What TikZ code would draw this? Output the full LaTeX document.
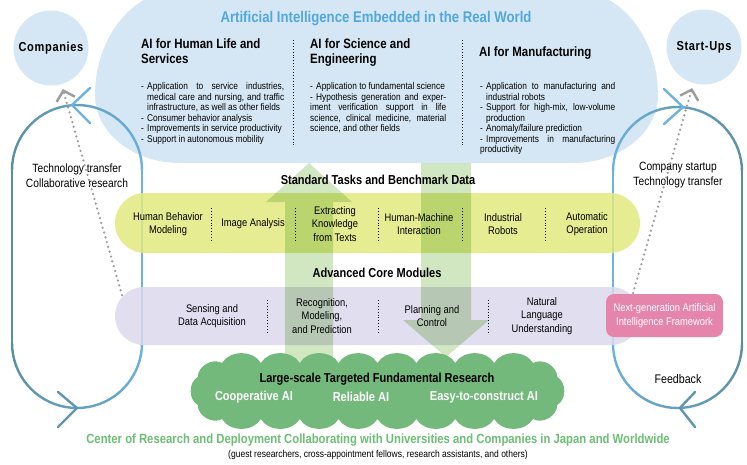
\documentclass[tikz,border=0pt]{standalone}
\usepackage{fontspec}
\setmainfont[FakeStretch=0.85]{Liberation Sans}
\usetikzlibrary{arrows.meta}

\definecolor{skyfill}{HTML}{D5E7F4}
\definecolor{titleblue}{HTML}{52A7DD}
\definecolor{looplight}{HTML}{6CB3E2}
\definecolor{loopdark}{HTML}{5A8D9D}
\definecolor{taskyellow}{HTML}{E1E97F}
\definecolor{corelilac}{HTML}{DAD8EC}
\definecolor{arrowgreen}{HTML}{D1E7C1}
\definecolor{cloudgreen}{HTML}{73B97C}
\definecolor{centergreen}{HTML}{6CBE75}
\definecolor{framepink}{HTML}{E685AC}
\definecolor{dotgray}{HTML}{9C9C9C}

\newcommand\fsz[2]{\fontsize{#1}{#2}\selectfont}
\newcommand\bitem[1]{\par\noindent\hangindent=6pt\hangafter=1\makebox[6pt][l]{-}#1}

\tikzset{
  loopline/.style={line width=2.4pt,line cap=round},
  hub/.style={circle,fill=skyfill,minimum size=75pt,font=\bfseries\fsz{13}{15}\addfontfeatures{LetterSpace=5}},
  heading/.style={anchor=north west,align=left,font=\bfseries\fsz{13.5}{15}},
  bullets/.style={anchor=north west,text width=#1,align=justify,font=\fsz{9.8}{10.5}},
  bar/.style={font=\bfseries\fsz{13}{15}},
  item/.style={align=center,font=\fsz{11}{13.5}},
  divider/.style={dotted,line width=0.9pt},
  dotlink/.style={dotgray,line width=2.5pt,line cap=round,dash pattern=on 0pt off 5pt,
    shorten >=5pt,-{Straight Barb[length=9pt,width=19pt,line width=2.4pt]}},
  puff/.style={bend right=60},
}

\begin{document}
\begin{tikzpicture}[x=1pt,y=1pt,every node/.style={inner sep=0pt}]
\useasboundingbox (0,0) rectangle (747,-464);
\clip (0,0) rectangle (747,-464);

\fill[skyfill] (95,-95) arc[start angle=180,end angle=270,x radius=85,y radius=68]
  -- (573,-163) arc[start angle=270,end angle=360,x radius=85,y radius=68]
  arc[start angle=0,end angle=90,x radius=85,y radius=105]
  -- (180,10) arc[start angle=90,end angle=180,x radius=85,y radius=105] -- cycle;

\node[hub] (companies) at (51,-48) {Companies};
\node[hub] (startups) at (704,-47) {Start-Ups};

\draw[loopline,loopdark] (12,-170) -- (12,-343);
\draw[loopline,looplight] (142,-170) -- (142,-343);
\draw[loopline,looplight] (613,-171.5) -- (613,-343.5);
\draw[loopline,loopdark] (742,-171.5) -- (742,-343.5);
\foreach \a in {0,10,...,170}{
  \pgfmathsetmacro\dk{(\a+5)/1.8}
  \draw[loopline,loopdark!\dk!looplight] (77,-170) ++(\a:65) arc[start angle=\a,delta angle=10,radius=65];
  \draw[loopline,loopdark!\dk!looplight] (677.5,-343.5) ++({180+\a}:64.5) arc[start angle={180+\a},delta angle=10,radius=64.5];
  \pgfmathsetmacro\dk{100-(\a+5)/1.8}
  \draw[loopline,loopdark!\dk!looplight] (77,-343) ++({180+\a}:65) arc[start angle={180+\a},delta angle=10,radius=65];
  \draw[loopline,loopdark!\dk!looplight] (677.5,-171.5) ++(\a:64.5) arc[start angle=\a,delta angle=10,radius=64.5];
}
\draw[loopline,looplight] (90,-88) -- (72,-105) -- (90,-123);
\draw[loopline,loopdark!75!looplight] (58,-392) -- (77,-408) -- (58,-427);
\draw[loopline,looplight] (664,-89) -- (683,-107) -- (664,-124);
\draw[loopline,loopdark!75!looplight] (695,-392) -- (680,-408) -- (695,-427);

\node[fill=taskyellow,fill opacity=0.85,rounded corners=30pt,minimum width=525pt,minimum height=60pt] (tasks) at (377.5,-223) {};
\node[fill=corelilac,fill opacity=0.85,rounded corners=29pt,minimum width=525pt,minimum height=58pt] (modules) at (377.5,-316) {};

\begin{scope}[blend mode=multiply]
  \fill[arrowgreen] (285,-362) -- (285,-202) -- (266,-202) -- (309,-163) -- (352,-202) -- (333,-202) -- (333,-362) -- cycle;
  \fill[arrowgreen] (421,-163) -- (421,-320) -- (403,-320) -- (446,-357) -- (489,-320) -- (471,-320) -- (471,-163) -- cycle;
\end{scope}

\node[font=\bfseries\fsz{15.5}{17},text=titleblue] (realworld) at (376,-19) {Artificial Intelligence Embedded in the Real World};

\node[heading] (humanlife) at (141,-39) {AI for Human Life and\\Services};
\node[heading] (science) at (310,-39) {AI for Science and\\Engineering};
\node[heading] (manufacturing) at (479,-47) {AI for Manufacturing};

\node[bullets=143pt] (humanlifelist) at (141,-79) {%
  \bitem{Application to service industries,\linebreak medical care and nursing, and traffic\linebreak infrastructure, as well as other fields}
  \bitem{Consumer behavior analysis}
  \bitem{Improvements in service productivity}
  \bitem{Support in autonomous mobility}};
\node[bullets=136pt] (sciencelist) at (310,-79) {%
  \bitem{Application to fundamental science}
  \bitem{Hypothesis generation and exper-\linebreak iment verification support in life\linebreak science, clinical medicine, material\linebreak science, and other fields}};
\node[bullets=135pt] (manufacturinglist) at (480,-79) {%
  \bitem{Application to manufacturing and\linebreak industrial robots}
  \bitem{Support for high-mix, low-volume\linebreak production}
  \bitem{Anomaly/failure prediction}
  \bitem{Improvements in manufacturing\linebreak productivity}};

\draw[divider] (293,-40) -- (293,-147);
\draw[divider] (462,-40) -- (462,-147);

\node[bar] (tasksbar) at (378,-180) {Standard Tasks and Benchmark Data};
\node[item] (behavior) at (168,-224) {Human Behavior\\Modeling};
\node[item] (image) at (253,-224) {Image Analysis};
\node[item] (knowledge) at (335,-224) {Extracting\\Knowledge\\from Texts};
\node[item] (interaction) at (419,-224) {Human-Machine\\Interaction};
\node[item] (robots) at (503,-224) {Industrial\\Robots};
\node[item] (operation) at (587,-224) {Automatic\\Operation};
\foreach \x in {211,295,378,462,545}
  \draw[divider] (\x,-208) -- (\x,-240);

\node[bar] (modulesbar) at (377,-273) {Advanced Core Modules};
\node[item] (sensing) at (212,-316) {Sensing and\\Data Acquisition};
\node[item] (recognition) at (322,-316) {Recognition,\\Modeling,\\and Prediction};
\node[item] (planning) at (432,-316) {Planning and\\Control};
\node[item] (language) at (542,-316) {Natural\\Language\\Understanding};
\foreach \x in {267,378,488}
  \draw[divider] (\x,-300) -- (\x,-332);

\node[item,font=\fsz{12}{15}] (transferleft) at (77,-175.5) {Technology transfer\\Collaborative research};
\node[item,font=\fsz{12}{15}] (transferright) at (678,-175.5) {Company startup\\Technology transfer};
\node[font=\fsz{12.5}{14}] (feedback) at (678,-379) {Feedback};

\fill[cloudgreen] (222,-419)
  \foreach \i in {1,...,8} { to[puff] ({222+\i*38.875},-419) }
  \foreach \k in {1,2,3} { to[puff] ({533+28*cos(-90+\k*60)},{-391+28*sin(-90+\k*60)}) }
  \foreach \i in {1,...,8} { to[puff] ({533-\i*38.875},-363) }
  \foreach \k in {1,2,3} { to[puff] ({222+28*cos(90+\k*60)},{-391+28*sin(90+\k*60)}) }
  -- cycle;
\node[bar] (researchtitle) at (377,-379) {Large-scale Targeted Fundamental Research};
\node[bar,text=white] (cooperative) at (254,-397) {Cooperative AI};
\node[bar,text=white] (reliable) at (361,-397) {Reliable AI};
\node[bar,text=white] (easy) at (484,-397) {Easy-to-construct AI};

\node[fill=framepink,rounded corners=8pt,minimum width=117pt,minimum height=43pt,align=center,text=white,font=\fsz{11}{14}] (framework) at (664.5,-315.5) {Next-generation Artificial\\Intelligence Framework};

\coordinate (modulescorner) at (122,-295);
\coordinate (frameworkcorner) at (633,-293);
\draw[dotlink] (modulescorner) -- (companies);
\draw[dotlink] (frameworkcorner) -- (startups);

\node[font=\bfseries\fsz{13.3}{15},text=centergreen] (centerline) at (378,-440) {Center of Research and Deployment Collaborating with Universities and Companies in Japan and Worldwide};
\node[font=\fsz{10}{12}] (guests) at (378,-455) {(guest researchers, cross-appointment fellows, research assistants, and others)};
\end{tikzpicture}
\end{document}
